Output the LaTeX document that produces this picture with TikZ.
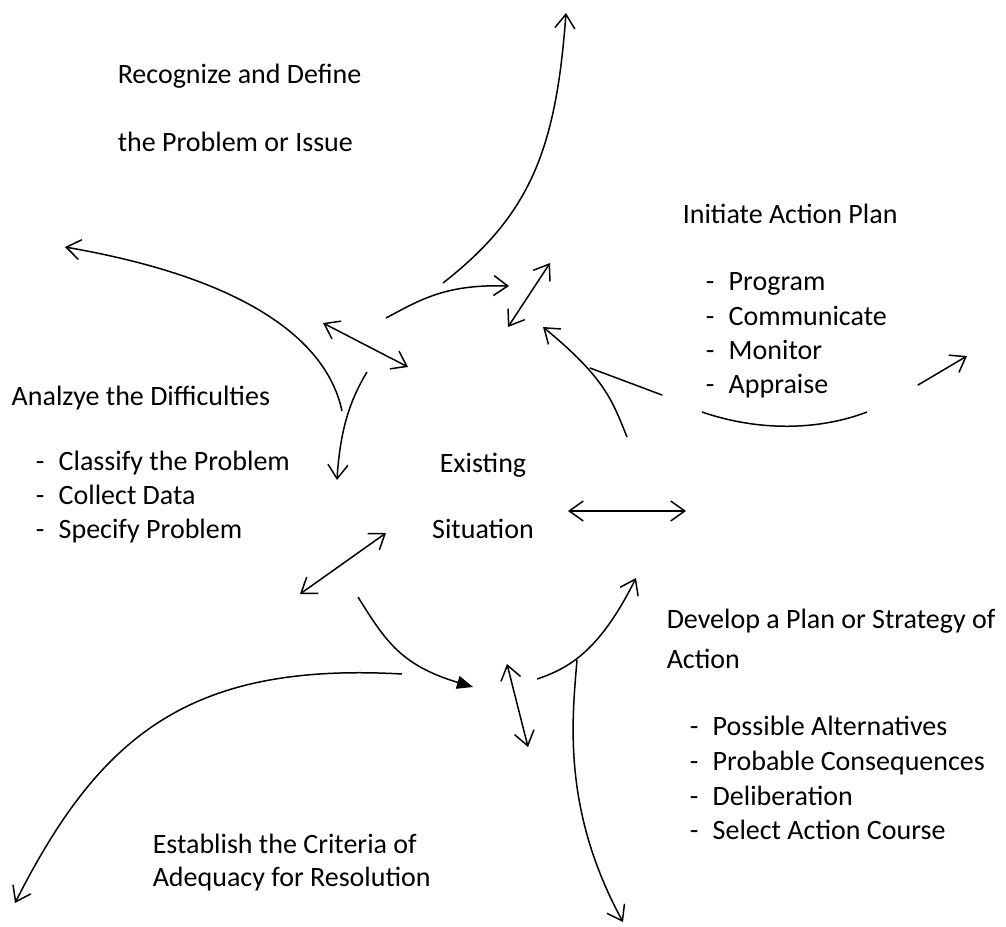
\documentclass[tikz,border=0pt]{standalone}
\usepackage{fontspec}
\setmainfont{Carlito}
\usetikzlibrary{arrows.meta,calc}
\usepackage{tkz-euclide}
\newcommand{\listdash}{\makebox[23pt][l]{-}}

\begin{document}
\begin{tikzpicture}[x=1pt,y=-1pt,line width=1.5pt,
  txt/.style={anchor=base west,inner sep=0pt,font=\fontsize{28}{34}\selectfont},
  >={Straight Barb[length=14pt,width=20pt]}]
\useasboundingbox (0,0) rectangle (1006,926);
\tkzSetUpLine[line width=1.5pt,color=black]

\tkzDefPoints{443/283/A1,566/13/A2,386/318/B1,509/286/B2,508/327/C1,550/263/C2}
\tkzDefPoints{627/437/D1,543/327/D2,662/395/D3,590/368/D4,702/412/E1,867/412/E2}
\tkzDefPoints{918/385/F1,967/356/F2,342/411/G1,65/247/G2,323/323/H1,408/367/H2}
\tkzDefPoints{367/372/I1,337/480/I2,568/511/K1,686/511/K2,300/594/L1,386/533/L2}
\tkzDefPoints{358/597/M1,473/687/M2,402/674/N1,15/903/N2,507/664/O1,528/747/O2}
\tkzDefPoints{537/679/P1,636/578/P2,577/660/Pq,623/922/Q2}

\draw[->] (A1) .. controls (530,215) and (556,150) .. (A2);
\draw[->] (B1) .. controls (420,300) and (445,284) .. (B2);
\tkzDrawSegment[<->](C1,C2)
\draw[->] (D1) .. controls (612,400) and (605,378) .. (D2);
\tkzDrawSegment(D3,D4)
\draw (E1) .. controls (760,432) and (820,430) .. (E2);
\tkzDrawSegment[->](F1,F2)
\draw[->] (G1) .. controls (328,345) and (255,280) .. (G2);
\tkzDrawSegment[<->](H1,H2)
\draw[->] (I1) .. controls (350,400) and (340,430) .. (I2);
\tkzDrawSegment[<->](K1,K2)
\tkzDrawSegment[<->](L1,L2)
\draw[-{Triangle[length=16pt,width=13pt]}] (M1) .. controls (385,640) and (400,665) .. (M2);
\draw[->] (N1) .. controls (190,662) and (100,735) .. (N2);
\tkzDrawSegment[<->](O1,O2)
\draw[->] (P1) .. controls (570,668) and (600,650) .. (P2);
\draw[->] (Pq) .. controls (572,720) and (562,810) .. (Q2);

\node[txt] (rec1) at (117,83) {Recognize and Define};
\node[txt] (rec2) at (117,151) {the Problem or Issue};

\node[txt] (init) at (682,223) {Initiate Action Plan};
\node[txt] (init1) at (705,290) {\listdash Program};
\node[txt] (init2) at (705,325) {\listdash Communicate};
\node[txt] (init3) at (705,359) {\listdash Monitor};
\node[txt] (init4) at (705,393) {\listdash Appraise};

\node[txt] (ana) at (11,405) {Analzye the Difficulties};
\node[txt] (ana1) at (35,470) {\listdash Classify the Problem};
\node[txt] (ana2) at (35,504) {\listdash Collect Data};
\node[txt] (ana3) at (35,538) {\listdash Specify Problem};

\node[txt,anchor=base] (exist) at (483,472) {Existing};
\node[txt,anchor=base] (sit) at (483,538) {Situation};

\node[txt] (dev1) at (666,628) {Develop a Plan or Strategy of};
\node[txt] (dev2) at (666,668) {Action};
\node[txt] (dev3) at (689,735) {\listdash Possible Alternatives};
\node[txt] (dev4) at (689,770) {\listdash Probable Consequences};
\node[txt] (dev5) at (689,805) {\listdash Deliberation};
\node[txt] (dev6) at (689,839) {\listdash Select Action Course};

\node[txt] (est1) at (152,853) {Establish the Criteria of};
\node[txt] (est2) at (152,886) {Adequacy for Resolution};

\end{tikzpicture}
\end{document}
